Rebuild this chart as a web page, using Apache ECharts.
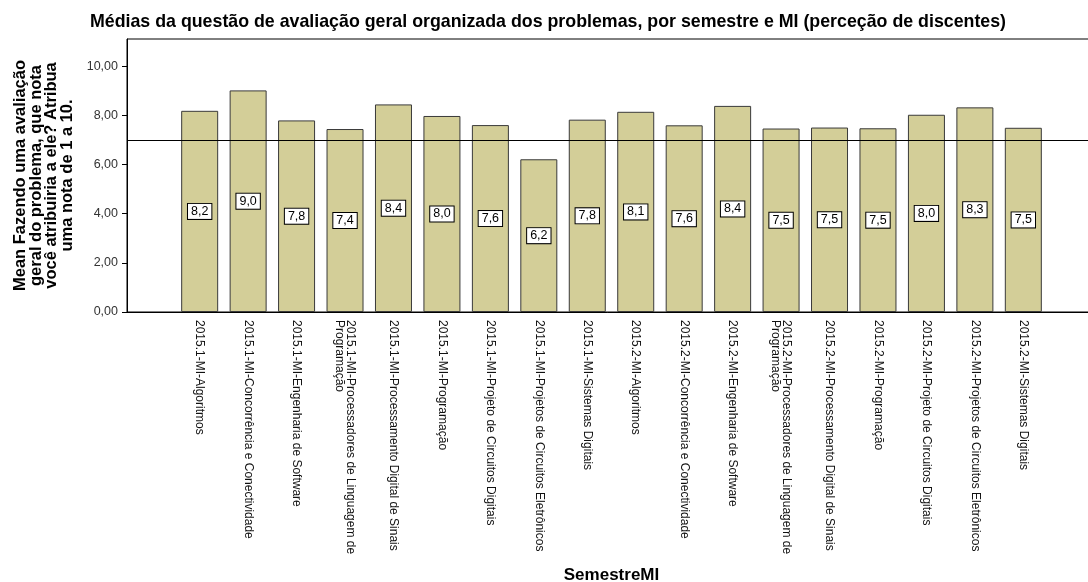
<!DOCTYPE html>
<html>
<head>
<meta charset="utf-8">
<script src="https://cdn.jsdelivr.net/npm/echarts@6/dist/echarts.min.js"></script>
<style>
  html, body { margin: 0; padding: 0; background: #fff; }
  #chart { width: 1088px; height: 582px; }
</style>
</head>
<body>
<div id="chart"></div>
<script>
  // categories (semester - MI)
  const categories = [
    "2015.1-MI-Algoritmos",
    "2015.1-MI-Concorrência e Conectividade",
    "2015.1-MI-Engenharia de Software",
    "2015.1-MI-Processadores de Linguagem de\nProgramação",
    "2015.1-MI-Processamento Digital de Sinais",
    "2015.1-MI-Programação",
    "2015.1-MI-Projeto de Circuitos Digitais",
    "2015.1-MI-Projetos de Circuitos Eletrônicos",
    "2015.1-MI-Sistemas Digitais",
    "2015.2-MI-Algoritmos",
    "2015.2-MI-Concorrência e Conectividade",
    "2015.2-MI-Engenharia de Software",
    "2015.2-MI-Processadores de Linguagem de\nProgramação",
    "2015.2-MI-Processamento Digital de Sinais",
    "2015.2-MI-Programação",
    "2015.2-MI-Projeto de Circuitos Digitais",
    "2015.2-MI-Projetos de Circuitos Eletrônicos",
    "2015.2-MI-Sistemas Digitais"
  ];

  // mean scores
  const means = [8.18, 9.01, 7.79, 7.44, 8.44, 7.97, 7.60, 6.21, 7.82, 8.14, 7.59, 8.38, 7.46, 7.50, 7.47, 8.02, 8.32, 7.49];

  const yTicks = [0, 2, 4, 6, 8, 10];
  const refLine = 7;

  // one empty slot on each side, like the SPSS plot padding
  const axisCats = [""].concat(categories, [""]);
  const axisVals = [null].concat(means, [null]);

  const fmtComma = (v, d) => v.toFixed(d).replace(".", ",");

  const chart = echarts.init(document.getElementById("chart"));

  chart.setOption({
    animation: false,
    textStyle: { fontFamily: "Liberation Sans, Arial, sans-serif" },
    title: {
      text: "Médias da questão de avaliação geral organizada dos problemas, por semestre e MI (perceção de discentes)",
      left: 543,
      textAlign: "center",
      top: 8,
      textStyle: { fontSize: 17.8, fontWeight: "bold", color: "#000" }
    },
    grid: {
      left: 127,
      right: -8,
      top: 39,
      bottom: 270,
      outerBoundsMode: "none",
      show: true,
      borderColor: "#000",
      borderWidth: 1
    },
    xAxis: {
      type: "category",
      data: axisCats,
      name: "SemestreMI",
      nameLocation: "middle",
      nameGap: 255,
      nameTextStyle: { fontSize: 17, fontWeight: "bold", color: "#000" },
      axisLine: { lineStyle: { color: "#000" } },
      axisTick: {
        alignWithLabel: true,
        length: 6,
        lineStyle: { color: "#000" },
        interval: (i, v) => v !== ""
      },
      axisLabel: {
        interval: 0,
        rotate: -90,
        margin: 8,
        fontSize: 12,
        color: "#111",
        lineHeight: 11
      }
    },
    yAxis: {
      type: "value",
      min: 0,
      max: 11.1,
      name: "Mean Fazendo uma avaliação\ngeral do problema, que nota\nvocê atribuiria a ele? Atribua\numa nota de 1 a 10.",
      nameLocation: "middle",
      nameRotate: 90,
      nameGap: 31,
      nameTextStyle: { fontSize: 16.5, fontWeight: "bold", color: "#000", lineHeight: 15.5, align: "center" },
      splitLine: { show: false },
      axisLine: { show: true, lineStyle: { color: "#000" } },
      axisTick: { show: true, length: 5, customValues: yTicks, lineStyle: { color: "#000" } },
      axisLabel: {
        customValues: yTicks,
        margin: 9,
        fontSize: 12.5,
        color: "#333",
        formatter: (v) => fmtComma(v, 2)
      }
    },
    series: [
      {
        type: "bar",
        data: axisVals,
        barWidth: 37,
        itemStyle: { color: "#D3CE98", borderColor: "#3a3a3a", borderWidth: 1 },
        label: {
          show: true,
          position: "inside",
          formatter: (p) => fmtComma(p.value, 1),
          color: "#000",
          fontSize: 12.5,
          backgroundColor: "#fff",
          borderColor: "#000",
          borderWidth: 1,
          padding: [1, 3, 1, 3]
        },
        markLine: {
          silent: true,
          symbol: "none",
          label: { show: false },
          lineStyle: { color: "#000", type: "solid", width: 1 },
          data: [{ yAxis: refLine }]
        }
      }
    ]
  });
</script>
</body>
</html>
